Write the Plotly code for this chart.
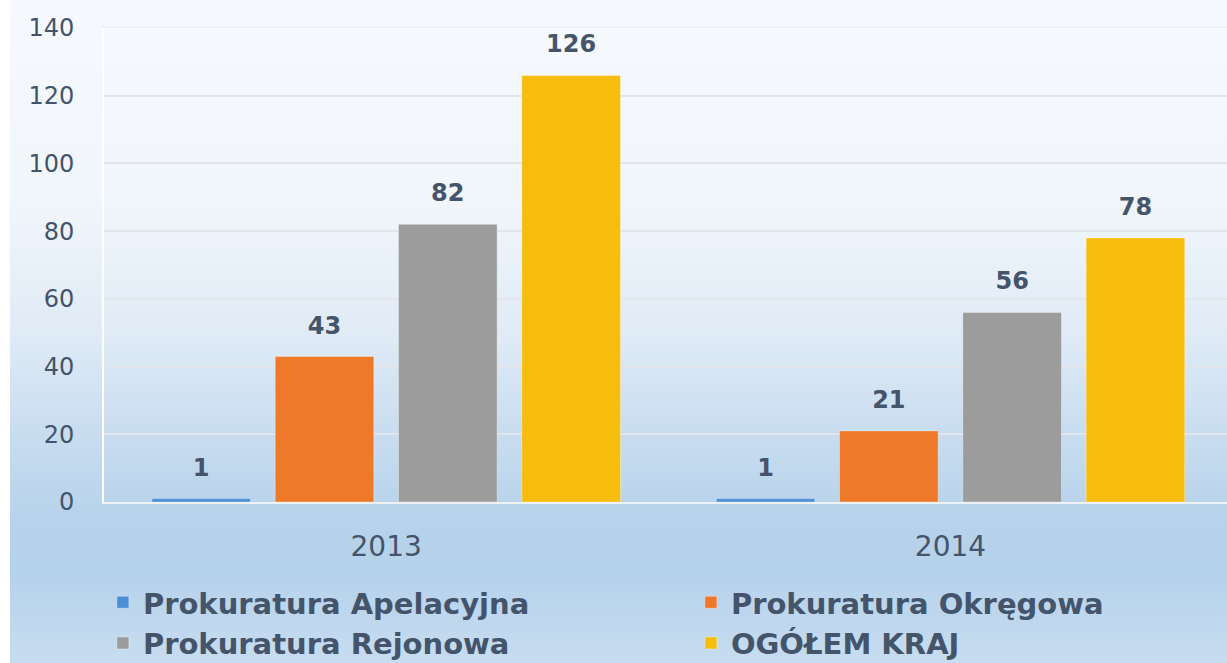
import base64
import plotly.graph_objects as go

years = ["2013", "2014"]
apelacyjna = [1, 1]
okregowa = [43, 21]
rejonowa = [82, 56]
ogolem = [126, 78]

series = [
    ("Prokuratura Apelacyjna", apelacyjna, "#4a8fd8"),
    ("Prokuratura Okręgowa", okregowa, "#ee7928"),
    ("Prokuratura Rejonowa", rejonowa, "#9c9c9c"),
    ("OGÓŁEM KRAJ", ogolem, "#f7bd0c"),
]

TXT = "#44546a"

# slide background gradient
svg = """<svg xmlns='http://www.w3.org/2000/svg' width='100' height='100' preserveAspectRatio='none'>
<defs><linearGradient id='g' x1='0' y1='0' x2='0' y2='1'>
<stop offset='0' stop-color='#f6f9fd'/>
<stop offset='0.30' stop-color='#f1f6fb'/>
<stop offset='0.50' stop-color='#e0ebf6'/>
<stop offset='0.65' stop-color='#c9ddf0'/>
<stop offset='0.77' stop-color='#b8d3eb'/>
<stop offset='0.86' stop-color='#b5d2eb'/>
<stop offset='1' stop-color='#c7dcf0'/>
</linearGradient></defs>
<rect width='100' height='100' fill='url(#g)'/></svg>"""
bg_uri = "data:image/svg+xml;base64," + base64.b64encode(svg.encode()).decode()

fig = go.Figure()
for name, vals, col in series:
    fig.add_trace(go.Bar(
        x=years, y=vals, name=name,
        marker=dict(color=col, line=dict(color="rgba(255,255,255,0.35)", width=1)),
        text=[f"<span style='font-size:24px'><b>{v}</b></span><br> " for v in vals],
        textposition="outside",
        textfont=dict(family="DejaVu Sans", size=13, color=TXT),
        cliponaxis=False,
    ))

W, H = 1227, 663
L, R, T, B = 104, 0, 28, 161
pw, ph = W - L - R, H - T - B

fig.update_layout(
    width=W, height=H,
    margin=dict(l=L, r=R, t=T, b=B, autoexpand=False),
    barmode="group",
    bargap=0.126,
    bargroupgap=0.2,
    paper_bgcolor="#f6f9fd",
    plot_bgcolor="rgba(0,0,0,0)",
    font=dict(family="DejaVu Sans", color=TXT),
    images=[dict(
        source=bg_uri, xref="paper", yref="paper",
        x=-L / pw, y=1 + T / ph, sizex=W / pw, sizey=H / ph,
        sizing="stretch", layer="below",
    )],
    # white strip at the left edge of the slide
    shapes=[dict(
        type="rect", xref="paper", yref="paper",
        x0=-L / pw, x1=(10 - L) / pw, y0=-B / ph, y1=1 + T / ph,
        fillcolor="white", line=dict(width=0), layer="below",
    )],
    xaxis=dict(
        range=[-0.5, 1.49],
        showline=True, linecolor="#eef2f7", linewidth=2, mirror=True,
        ticks="", tickfont=dict(size=28, color=TXT),
        ticklabelstandoff=18,
    ),
    yaxis=dict(
        range=[0, 140], dtick=20,
        showgrid=True, gridcolor="#e2e6ec", gridwidth=2,
        zeroline=False,
        showline=True, linecolor="#ffffff", linewidth=2,
        ticks="", tickfont=dict(size=24, color=TXT),
        ticklabelstandoff=23,
    ),
    legend=dict(
        orientation="h", x=-0.001, xanchor="left", y=-0.158, yanchor="top",
        entrywidth=543, entrywidthmode="pixels",
        font=dict(size=29, color=TXT, family="DejaVu Sans", weight="bold"),
        bgcolor="rgba(0,0,0,0)", traceorder="normal",
    ),
)

fig.write_html(
    "out.html",
    config={"displayModeBar": False},
    post_script="document.body.style.margin='0';window.dispatchEvent(new Event('resize'));",
)
